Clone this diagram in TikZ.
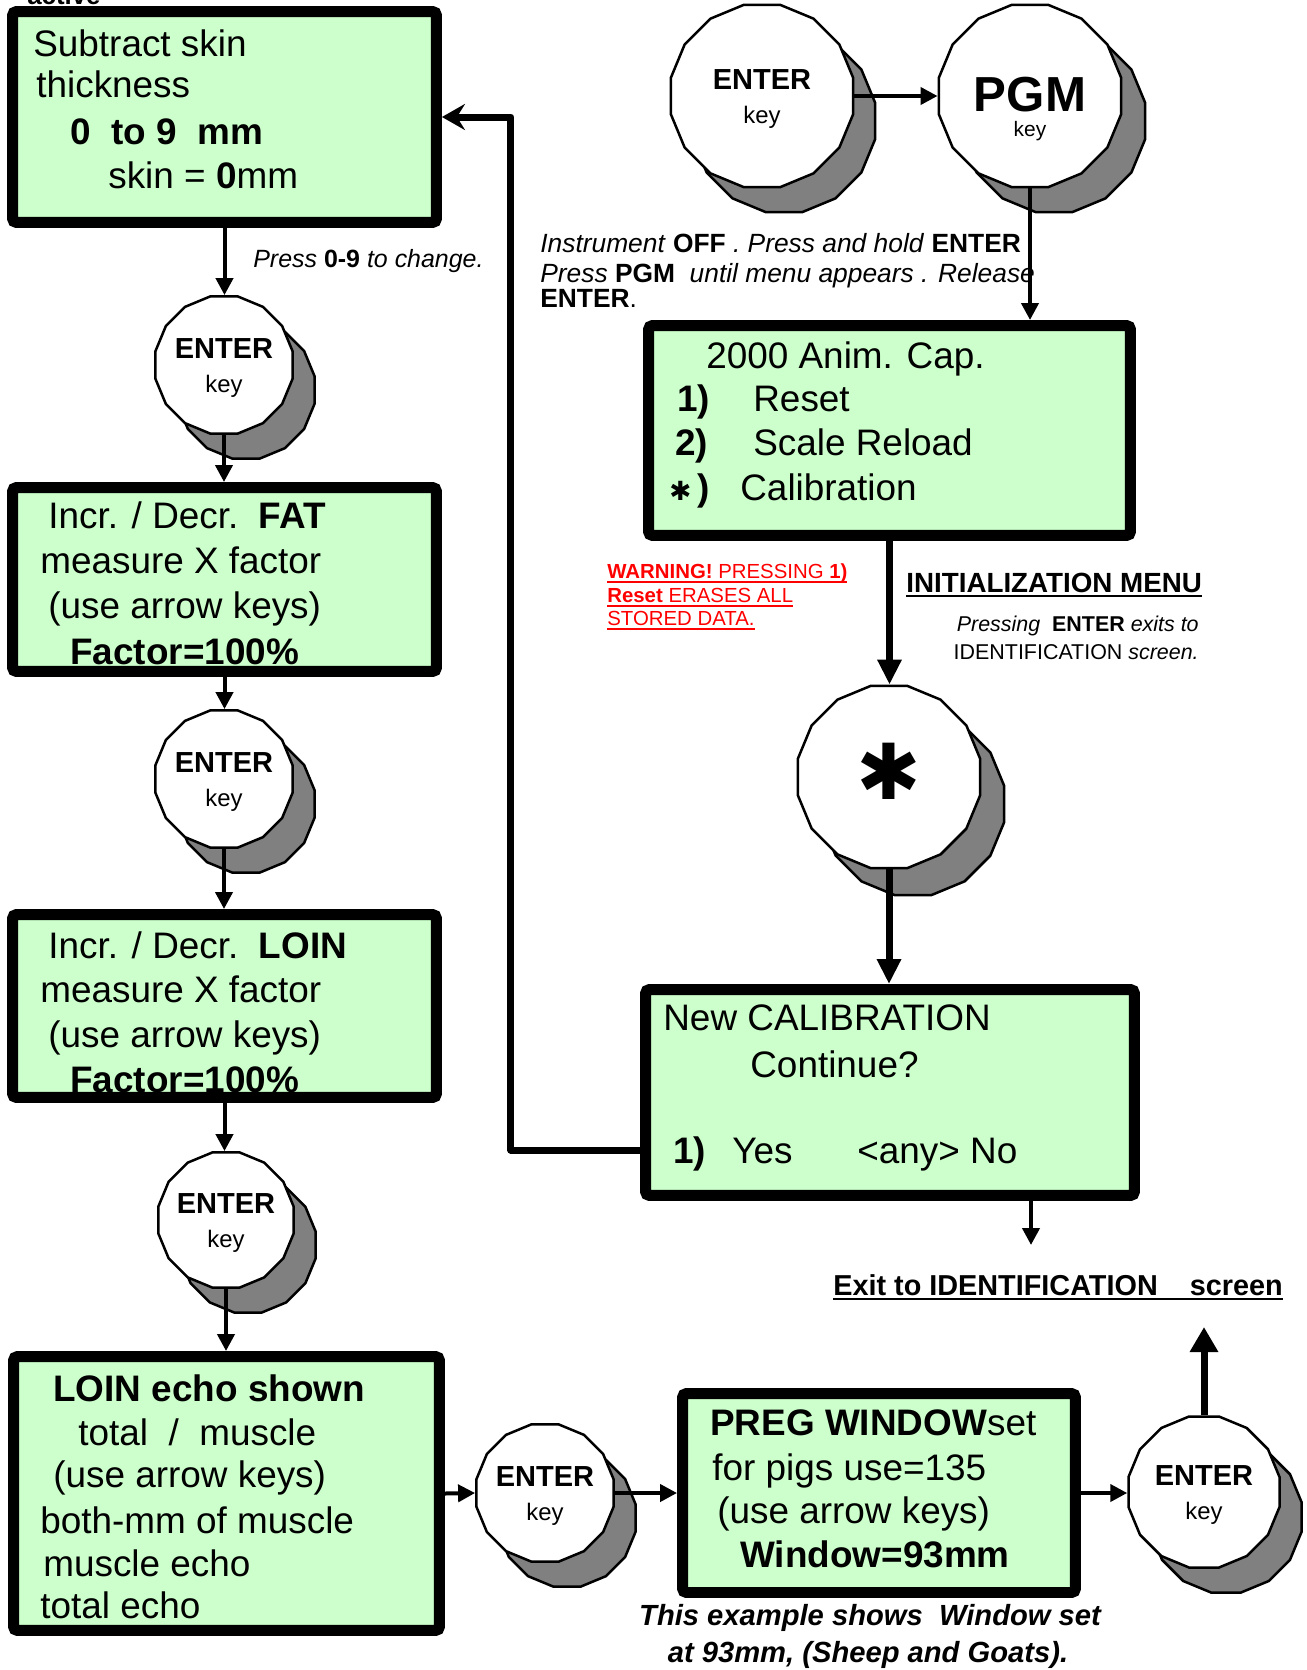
\documentclass[tikz,border=0pt]{standalone}
\usepackage{fontspec}
\setmainfont{Liberation Sans}
\newfontfamily\symfont{DejaVu Sans}
\usetikzlibrary{calc,arrows.meta,shapes.geometric,positioning}
\definecolor{lcdgreen}{HTML}{CCFFCC}
\definecolor{keygray}{HTML}{808080}
\newcommand\undl[1]{\setbox0=\hbox{#1}\rlap{\rule[-3pt]{\wd0}{1.5pt}}\box0}

\begin{document}
\begin{tikzpicture}[x=0.02cm,y=-0.02cm,
  lcd/.style={rectangle,draw=black,fill=lcdgreen,line width=0.22cm,rounded corners=0.08cm,inner sep=0pt},
  keyface/.style={regular polygon,regular polygon sides=16,draw=black,fill=white,line width=0.05cm,inner sep=0pt},
  keyshade/.style={keyface,fill=keygray},
  txt/.style={anchor=base west,inner sep=0pt},
  boxtxt/.style={txt,font=\fontsize{21}{25}\selectfont},
  keytop/.style={anchor=base,inner sep=0pt,font=\fontsize{16.5}{19}\selectfont\bfseries},
  keysub/.style={anchor=base,inner sep=0pt,font=\fontsize{13.6}{16}\selectfont},
  note/.style={txt,font=\fontsize{15}{18}\selectfont},
  arr/.style={-{Triangle[length=0.34cm,width=0.34cm]},line width=0.08cm},
  thickarr/.style={-{Triangle[length=0.5cm,width=0.46cm]},line width=0.14cm}]
	\path[use as bounding box,fill=white] (0,0) rectangle (1306,1670);
	%%cut-off text at the top
	\node[txt,font=\fontsize{14.7}{17}\selectfont\bfseries] (active) at (27,5) {active};
	%%display screens
	\node[lcd,minimum width=8.48cm,minimum height=4.22cm] (skin) at (224.5,117) {};
	\node[lcd,minimum width=8.48cm,minimum height=3.68cm] (fat) at (224.5,579.5) {};
	\node[lcd,minimum width=8.48cm,minimum height=3.66cm] (loin) at (224.5,1006) {};
	\node[lcd,minimum width=8.52cm,minimum height=5.48cm] (echo) at (226.5,1493.5) {};
	\node[lcd,minimum width=7.86cm,minimum height=3.98cm] (preg) at (879,1493) {};
	\node[lcd,minimum width=9.64cm,minimum height=4.20cm] (menu) at (889.5,430.5) {};
	\node[lcd,minimum width=9.78cm,minimum height=4.12cm] (newcal) at (890,1092.5) {};
	%%screen texts
	\node[boxtxt] (s1) at (33,56) {Subtract skin};
	\node[boxtxt] (s2) at (36,97) {thickness};
	\node[boxtxt] (s3) at (70,144) {\textbf{0\ \ to 9\ \ mm}};
	\node[boxtxt] (s4) at (108,188) {skin = \textbf{0}mm};
	\node[boxtxt] (f1) at (48,528) {Incr. / Decr.\ \ \textbf{FAT}};
	\node[boxtxt] (f2) at (40,573) {measure X factor};
	\node[boxtxt] (f3) at (48,618) {(use arrow keys)};
	\node[boxtxt] (f4) at (70,664) {\textbf{Factor=100\%}};
	\node[boxtxt] (l1) at (48,958) {Incr. / Decr.\ \ \textbf{LOIN}};
	\node[boxtxt] (l2) at (40,1002) {measure X factor};
	\node[boxtxt] (l3) at (48,1047) {(use arrow keys)};
	\node[boxtxt] (l4) at (70,1092) {\textbf{Factor=100\%}};
	\node[boxtxt] (e1) at (53,1401) {\textbf{LOIN echo shown}};
	\node[boxtxt] (e2) at (78,1445) {total\ \ /\ \ muscle};
	\node[boxtxt] (e3) at (53,1487) {(use arrow keys)};
	\node[boxtxt] (e4) at (40,1533) {both-mm of muscle};
	\node[boxtxt] (e5) at (43,1576) {muscle echo};
	\node[boxtxt] (e6) at (40,1618) {total echo};
	\node[boxtxt] (p1) at (710,1435) {\textbf{PREG WINDOW}set};
	\node[boxtxt] (p2) at (712,1480) {for pigs use=135};
	\node[boxtxt] (p3) at (717,1523) {(use arrow keys)};
	\node[boxtxt] (p4) at (740,1567) {\textbf{Window=93mm}};
	\node[boxtxt] (m1) at (706,368) {2000 Anim. Cap.};
	\node[boxtxt] (m2a) at (677,411) {\textbf{1)}};
	\node[boxtxt] (m2b) at (753,411) {Reset};
	\node[boxtxt] (m3a) at (675,455) {\textbf{2)}};
	\node[boxtxt] (m3b) at (753,455) {Scale Reload};
	\node[boxtxt] (m4a) at (669,500) {{\symfont\fontsize{15}{15}\selectfont\symbol{"2731}}\,\textbf{)}};
	\node[boxtxt] (m4b) at (740,500) {Calibration};
	\node[boxtxt] (n1) at (663,1030) {New CALIBRATION};
	\node[boxtxt] (n2) at (750,1077) {Continue?};
	\node[boxtxt] (n3a) at (673,1163) {\textbf{1)}};
	\node[boxtxt] (n3b) at (732,1163) {Yes};
	\node[boxtxt] (n3c) at (857,1163) {<any> No};
	%%keys
	\foreach \n/\x/\y/\r in {kenter/762/96/93,k1/224/365/70,k2/224/779/70,k3/226/1220/69,k4/545/1493/70,k5/1204/1492/77}{
		\node[keyshade,minimum size=\r*0.04cm] (\n-sh) at (\x+22,\y+25) {};
		\node[keyface,minimum size=\r*0.04cm] (\n) at (\x,\y) {};
		\node[keytop] (\n-t) at (\x,\y-7) {ENTER};
		\node[keysub] (\n-k) at (\x,\y+27) {key};
	}
	\node[keyshade,minimum size=3.72cm] (kpgm-sh) at (1054,121) {};
	\node[keyface,minimum size=3.72cm] (kpgm) at (1030,96) {};
	\node[keytop,font=\fontsize{28}{32}\selectfont\bfseries] (kpgm-t) at (1030,111) {PGM};
	\node[keysub,font=\fontsize{11.9}{14}\selectfont] (kpgm-k) at (1030,136) {key};
	\node[keyshade,minimum size=3.72cm] (kstar-sh) at (913,804) {};
	\node[keyface,minimum size=3.72cm] (kstar) at (889,777) {};
	\node[inner sep=0pt,font=\symfont\fontsize{44}{44}\selectfont] (kstar-t) at (889,771) {\symbol{"2731}};
	%%notes
	\node[note,font=\fontsize{14.2}{17}\selectfont] (press) at (253,267) {\textit{Press} \textbf{0-9} \textit{to change.}};
	\node[note] (instr1) at (540,252) {\textit{Instrument} \textbf{OFF} \textit{. Press and hold} \textbf{ENTER}};
	\node[note] (instr2) at (540,282) {\textit{Press} \textbf{PGM}\ \ \textit{until menu appears . Release}};
	\node[note] (instr3) at (540,307) {\textbf{ENTER}.};
	\node[note,red,font=\fontsize{11.6}{14}\selectfont] (warn1) at (607,578) {\undl{\textbf{WARNING!} PRESSING \textbf{1)}}};
	\node[note,red,font=\fontsize{11.6}{14}\selectfont] (warn2) at (607,602) {\undl{\textbf{Reset} ERASES ALL}};
	\node[note,red,font=\fontsize{11.6}{14}\selectfont] (warn3) at (607,625) {\undl{STORED DATA.}};
	\node[note,font=\fontsize{15.8}{18}\selectfont\bfseries] (initmenu) at (906,592) {\undl{INITIALIZATION MENU}};
	\node[note,anchor=base east,font=\fontsize{12.2}{14}\selectfont] (exits1) at (1199,631) {\textit{Pressing}\ \ \textbf{ENTER} \textit{exits to}};
	\node[note,anchor=base east,font=\fontsize{12.2}{14}\selectfont] (exits2) at (1199,659) {IDENTIFICATION \textit{screen.}};
	\node[note,font=\fontsize{16.4}{19}\selectfont\bfseries] (exittxt) at (833,1295) {\undl{Exit to IDENTIFICATION\ \ \ \ screen}};
	\node[note,anchor=base,font=\fontsize{16.6}{19}\selectfont\bfseries\itshape] (cap1) at (870,1625) {This example shows\ \ Window set};
	\node[note,anchor=base,font=\fontsize{16.6}{19}\selectfont\bfseries\itshape] (cap2) at (868,1662) {at 93mm, (Sheep and Goats).};
	%%connectors
	\coordinate (exitdn) at (1031,1245);
	\coordinate (exitup) at (1204,1327);
	\draw[arr] (kenter) -- (kpgm);
	\draw[arr] (kpgm.south) -- (kpgm.south |- menu.north);
	\draw[thickarr] (menu.south) -- (menu.south |- kstar.north);
	\draw[thickarr] (kstar.south) -- (kstar.south |- newcal.north);
	\draw[arr] (newcal.south -| exitdn) -- (exitdn);
	\draw[line width=0.14cm,line join=round,-{Stealth[length=0.46cm,width=0.52cm,inset=0.16cm]}] ($(newcal.west)+(0,57.5)$) -| ($(skin.east)+(69,0)$) -- (skin.east);
	\draw[arr] (skin.south) -- (skin.south |- k1.north);
	\draw[arr] (k1.south) -- (k1.south |- fat.north);
	\draw[arr] (fat.south) -- (fat.south |- k2.north);
	\draw[arr] (k2.south) -- (k2.south |- loin.north);
	\draw[arr] (loin.south) -- (loin.south |- k3.north);
	\draw[arr] (k3.south) -- (k3.south |- echo.north);
	\draw[arr] (echo.east) -- (k4.west);
	\draw[arr] (k4.east) -- (preg.west);
	\draw[arr] (preg.east) -- (preg.east -| k5.west);
	\draw[-{Triangle[length=0.5cm,width=0.54cm]},line width=0.14cm] (k5.north) -- (exitup);
\end{tikzpicture}
\end{document}
